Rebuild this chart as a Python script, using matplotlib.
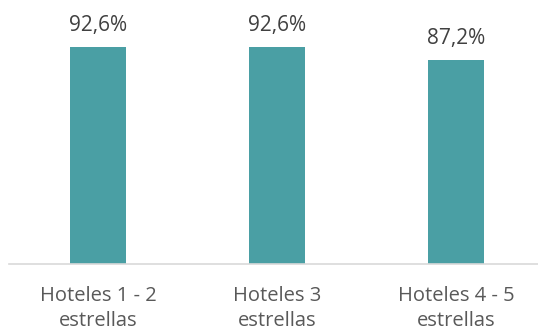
import matplotlib.pyplot as plt
import numpy as np

# data
categories = ['Hoteles 1 - 2\nestrellas', 'Hoteles 3\nestrellas', 'Hoteles 4 - 5\nestrellas']
values = [92.6, 92.6, 87.2]
value_labels = ['92,6%', '92,6%', '87,2%']

bar_colour = '#4A9FA4'

plt.rcParams['font.family'] = ['Open Sans', 'DejaVu Sans']

fig = plt.figure(figsize=(5.38, 3.34), dpi=100)
ax = fig.add_axes([8.5 / 538, 70.5 / 334, 537 / 538, 233.3 / 334])

x = np.arange(len(categories))
bars = ax.bar(x, values, width=0.313, color=bar_colour)

for xi, v, lab in zip(x, values, value_labels):
    ax.annotate(lab, (xi, v), xytext=(0, 11), textcoords='offset pixels',
                ha='center', va='bottom', fontsize=15, color='#404040')

ax.set_xlim(-0.5, 2.5)
ax.set_ylim(0, 100)
ax.set_xticks(x)
ax.set_xticklabels(categories, fontsize=14.5, color='#595959', linespacing=1.35)
ax.tick_params(axis='x', length=0, pad=16)
ax.set_yticks([])

for s in ['top', 'right', 'left']:
    ax.spines[s].set_visible(False)
ax.spines['bottom'].set_color('#D9D9D9')
ax.spines['bottom'].set_linewidth(1.2)

fig.savefig('out.png', dpi=100)
